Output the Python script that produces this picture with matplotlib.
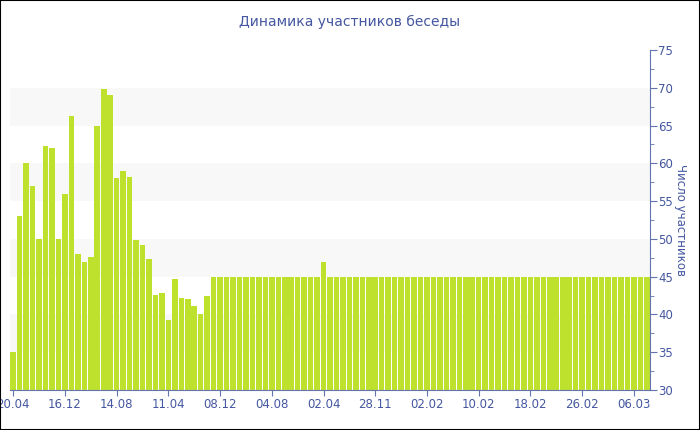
import matplotlib.pyplot as plt
from matplotlib import patches

# Participants per period (chat members dynamics)
values = [35, 53, 60, 57, 50, 62.3, 62, 50, 56, 66.2, 48, 47, 47.6, 65, 69.8, 69.1,
          58, 59, 58.2, 49.8, 49.2, 47.4, 42.6, 42.9, 39.3, 44.7, 42.2, 42, 41.1, 40, 42.4]
values += [45] * 17 + [47] + [45] * 50
tick_labels = ["20.04", "16.12", "14.08", "11.04", "08.12", "04.08", "02.04",
               "28.11", "02.02", "10.02", "18.02", "26.02", "06.03"]
tick_step = 8

blue = "#4457a0"
axis_blue = "#6373b0"

fig = plt.figure(figsize=(7, 4.3), dpi=100)
ax = fig.add_axes([10 / 700, 40 / 430, 640 / 700, 340 / 430])
ax.set_xlim(-0.5, len(values) - 0.5)
ax.set_ylim(30, 75)

# alternating bands
for lo in range(35, 75, 10):
    ax.axhspan(lo, lo + 5, color="#f8f8f8", lw=0, zorder=0)

ax.bar(range(len(values)), values, width=0.86, color="#bee12e", zorder=2)

for s in ["top", "left"]:
    ax.spines[s].set_visible(False)
ax.spines["bottom"].set_color(axis_blue)
ax.spines["right"].set_color(axis_blue)

ax.yaxis.tick_right()
ax.yaxis.set_label_position("right")
ax.set_yticks(range(30, 76, 5))
ax.set_yticks([y + 2.5 for y in range(30, 75, 5)], minor=True)
ax.tick_params(axis="y", which="major", colors=axis_blue, labelcolor=blue,
               length=5, labelsize=8.5, pad=1)
ax.tick_params(axis="y", which="minor", colors=axis_blue, length=3)
ax.set_ylabel("Число участников", color=blue, fontsize=8.5, rotation=270, labelpad=10)

ax.set_xticks([i * tick_step for i in range(len(tick_labels))])
ax.set_xticklabels(tick_labels)
ax.tick_params(axis="x", colors=axis_blue, labelcolor=blue, length=4, labelsize=8.5, pad=2)

fig.text(0.5, 1 - 22 / 430, "Динамика участников беседы", ha="center", va="center",
         color=blue, fontsize=10)

# outer frame
fig.patches.append(patches.Rectangle((0, 0), 1, 1, transform=fig.transFigure,
                                     fill=False, ec="black", lw=1.5))

fig.savefig("out.png", dpi=100)
